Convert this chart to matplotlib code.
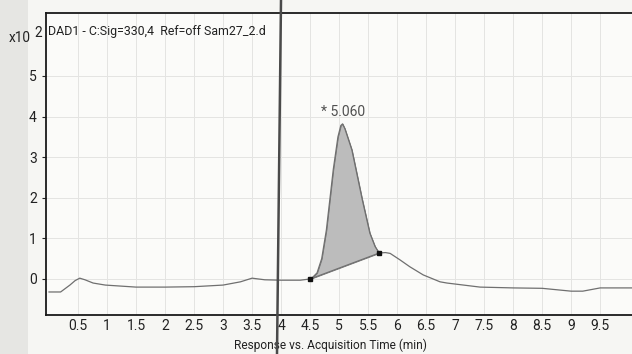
import numpy as np
import matplotlib
matplotlib.use("Agg")
import matplotlib.pyplot as plt
from matplotlib.lines import Line2D
from matplotlib.patches import Rectangle

# --- data (time in min, response x10^2) ---
time = [0.0, 0.2, 0.36, 0.45, 0.53, 0.62, 0.76, 0.97, 1.5, 2.0, 2.5, 3.0,
        3.3, 3.5, 3.72, 4.0, 4.33, 4.5, 4.55, 4.62, 4.7, 4.78, 4.84, 4.9,
        4.98, 5.03, 5.06, 5.1, 5.22, 5.4, 5.53, 5.62, 5.69, 5.8, 5.88,
        6.05, 6.22, 6.45, 6.74, 6.86, 7.43, 8.0, 8.5, 9.0, 9.2, 9.5, 9.84,
        10.3]
response = [-0.32, -0.32, -0.15, -0.04, 0.02, -0.02, -0.1, -0.15, -0.2,
            -0.2, -0.19, -0.15, -0.07, 0.02, -0.02, -0.03, -0.03, 0.0,
            0.05, 0.15, 0.5, 1.2, 1.95, 2.7, 3.5, 3.78, 3.82, 3.7, 3.18,
            1.95, 1.13, 0.8, 0.64, 0.65, 0.63, 0.47, 0.3, 0.1, -0.07,
            -0.1, -0.2, -0.22, -0.23, -0.3, -0.3, -0.22, -0.22, -0.22]

peak_rt = 5.060
peak_start = (4.5, 0.0)
peak_end = (5.69, 0.64)

title = "DAD1 - C:Sig=330,4  Ref=off Sam27_2.d"
xlabel = "Response vs. Acquisition Time (min)"
xticks = [0.5, 1, 1.5, 2, 2.5, 3, 3.5, 4, 4.5, 5, 5.5, 6, 6.5, 7, 7.5, 8,
          8.5, 9, 9.5]
yticks = [0, 1, 2, 3, 4, 5]

plt.rcParams['font.family'] = ['Roboto', 'DejaVu Sans']

fig = plt.figure(figsize=(6.32, 3.54), dpi=100)
fig.patch.set_facecolor('#f6f6f3')

# faint scan shading on the left edge
fig.patches.append(Rectangle((0, 0), 28 / 632, 1, transform=fig.transFigure,
                             facecolor='#e6e6e3', edgecolor='none', zorder=0))

ax = fig.add_axes([46 / 632, 39 / 354, 600 / 632, 302 / 354])
ax.set_facecolor('#fbfbf9')
ax.set_xlim(-0.052, 10.29)
ax.set_ylim(-0.887, 6.55)

t = np.array(time)
r = np.array(response)
ax.plot(t, r, color='#6f6f6f', lw=0.9, zorder=3)

# integrated peak area above the drop line between the two markers
mask = (t >= peak_start[0]) & (t <= peak_end[0])
base = np.interp(t[mask], [peak_start[0], peak_end[0]], [peak_start[1], peak_end[1]])
ax.fill_between(t[mask], base, r[mask], color='#bcbcbc', edgecolor='#707070',
                lw=0.6, zorder=2)
ax.plot([peak_start[0], peak_end[0]], [peak_start[1], peak_end[1]],
        color='#6f6f6f', lw=0.8, zorder=3)
ax.plot([peak_start[0], peak_end[0]], [peak_start[1], peak_end[1]], 's',
        color='#111111', ms=3.5, zorder=4)

ax.text(peak_rt, 3.95, f"* {peak_rt:.3f}", ha='center', va='bottom',
        fontsize=10, color='#505050')

ax.text(2 / 600, 1 - 18 / 302, title, transform=ax.transAxes, ha='left',
        va='center', fontsize=8.9, color='#222222')

ax.set_xticks(xticks)
ax.set_xticklabels([f"{v:g}" for v in xticks])
ax.set_yticks(yticks)
ax.tick_params(axis='both', labelsize=10, colors='#222222', length=3,
               width=0.8, direction='out')
ax.tick_params(axis='x', pad=3, length=0)
ax.grid(True, color='#e4e4e2', lw=0.7)
ax.set_axisbelow(True)
for side in ['left', 'bottom', 'top']:
    ax.spines[side].set_color('#1a1a1a')
    ax.spines[side].set_linewidth(1.3)
ax.spines['right'].set_visible(False)

ax.set_xlabel(xlabel, fontsize=8.6, color='#222222', labelpad=-2)
ax.xaxis.set_label_coords(284 / 600, -0.078)

fig.text(9 / 632, 1 - 38 / 354, "x10", fontsize=9.8, va='center', color='#222222')
fig.text(34 / 632, 1 - 33 / 354, "2", fontsize=9.8, va='center', color='#222222')

# fold line across the scanned page
fig.add_artist(Line2D([281 / 632, 277 / 632], [1, 0], transform=fig.transFigure,
                      color='#4a4a4a', lw=1.8, zorder=10))

fig.savefig("out.png", dpi=100, facecolor=fig.get_facecolor())
